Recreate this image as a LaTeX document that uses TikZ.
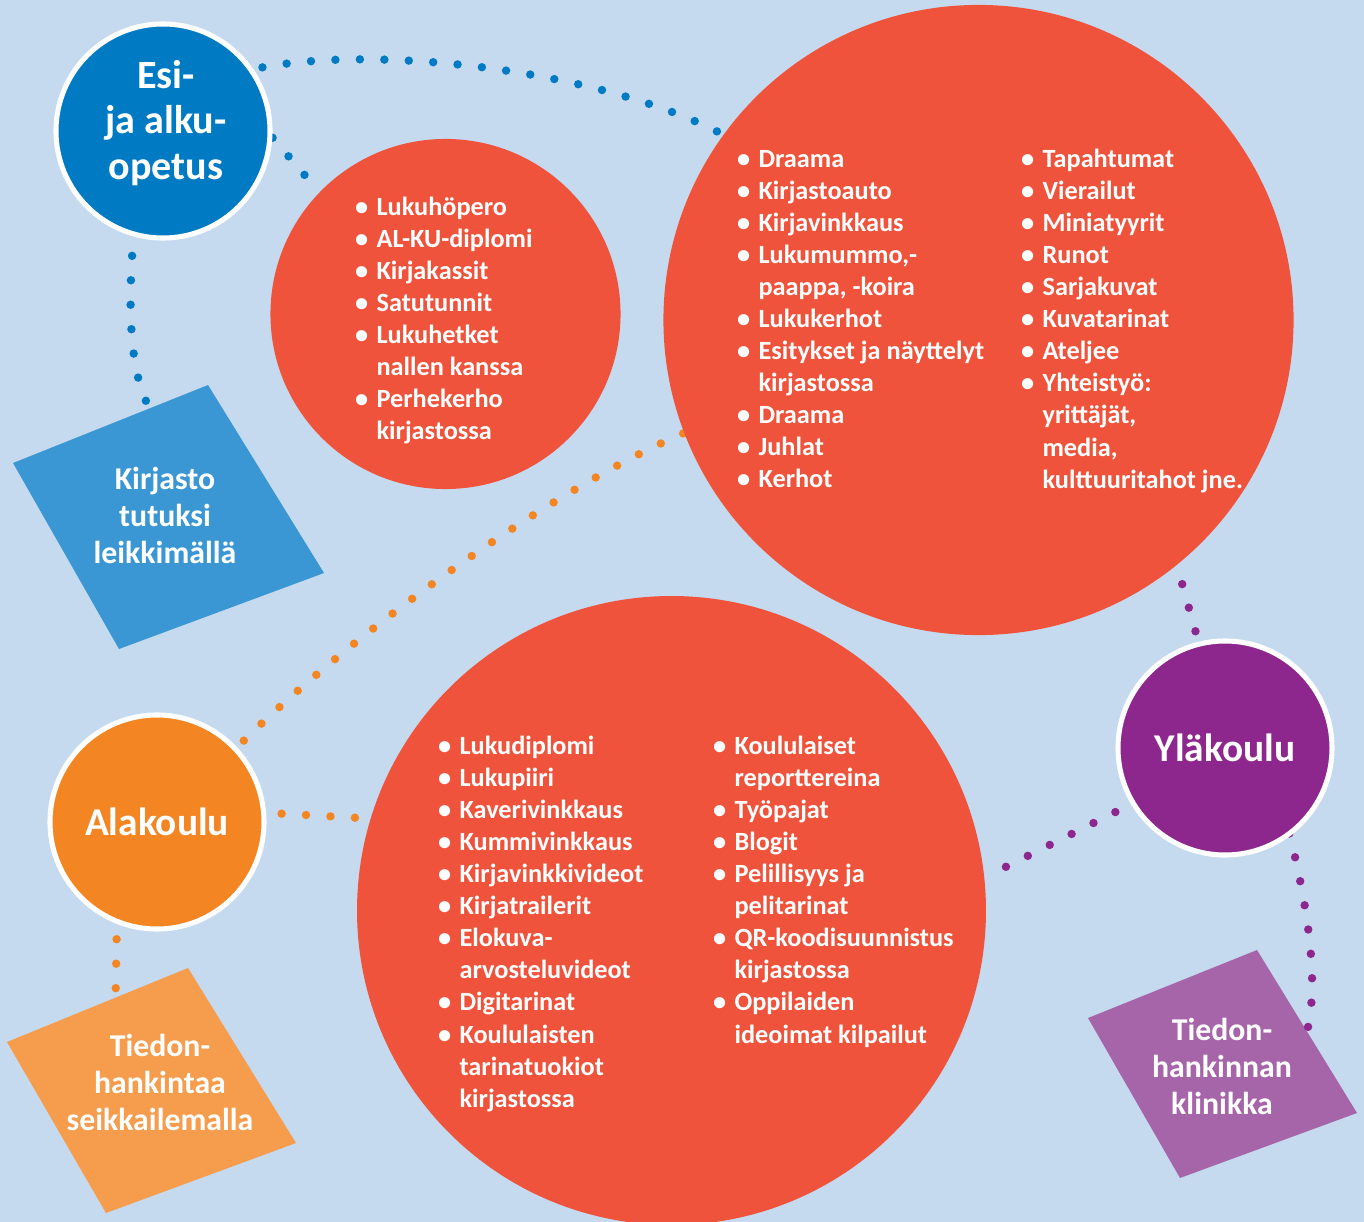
\documentclass[tikz,border=0pt]{standalone}
\usepackage{fontspec}
\setmainfont{Carlito}
\usetikzlibrary{backgrounds,calc}
\definecolor{bgblue}{RGB}{197,218,239}
\definecolor{discred}{RGB}{240,83,59}
\definecolor{esiblue}{RGB}{0,123,195}
\definecolor{kirjblue}{RGB}{58,151,211}
\definecolor{alaorange}{RGB}{243,134,35}
\definecolor{tiedorange}{RGB}{246,156,77}
\definecolor{ylapurple}{RGB}{142,39,141}
\definecolor{klinpurple}{RGB}{167,101,169}
\newcommand{\itm}{\makebox[0.54cm][l]{\textbullet}}
\newcommand{\cnt}{\hspace*{0.54cm}}
\begin{document}
\begin{tikzpicture}[x=0.025cm,y=-0.025cm,inner sep=0pt,outer sep=0pt,
disc/.style={circle,fill=discred},
stage/.style={circle,draw=white,line width=3.6pt,minimum size=5.35cm,text=white,align=center,font=\fontsize{28}{34}\selectfont\bfseries},
items/.style={anchor=north west,align=left,text=white,font=\fontsize{18.7}{22.8}\selectfont\bfseries},
tag/.style={align=center,text=white,font=\fontsize{22.6}{26.3}\selectfont\bfseries},
dotlink/.style={line width=6pt,line cap=round,dash pattern=on 0pt off 17.4pt}]
\useasboundingbox (0,0) rectangle (1364,1222);
% red discs
\node[disc,minimum size=8.75cm] (small) at (445.5,314) {};
\node[disc,minimum size=15.75cm] (top) at (978.5,320) {};
\node[disc,minimum size=15.72cm] (bottom) at (671.5,910.5) {};
% school stages
\node[stage,fill=esiblue] (esi) at (163,131) {};
\node[text=white,align=center,font=\fontsize{28.5}{32.5}\selectfont\bfseries] (esilabel) at (166,123) {Esi-\\ja alku-\\opetus};
\node[stage,fill=alaorange] (ala) at (157,822) {Alakoulu};
\node[stage,fill=ylapurple] (yla) at (1225,748) {Yläkoulu};
% diamond corners
\coordinate (k1) at (208,385); \coordinate (k2) at (324,573);
\coordinate (k3) at (119,649); \coordinate (k4) at (13,463);
\coordinate (s1) at (188,968); \coordinate (s2) at (296,1143);
\coordinate (s3) at (106,1213); \coordinate (s4) at (7,1042);
\coordinate (t1) at (1257,950); \coordinate (t2) at (1357,1113);
\coordinate (t3) at (1180,1178); \coordinate (t4) at (1088,1018);
\node[tag] (kirjasto) at (165,515) {Kirjasto\\tutuksi\\leikkimällä};
\node[tag] (seikkailu) at (160,1082) {Tiedon-\\hankintaa\\seikkailemalla};
\node[tag] (klinikka) at (1222,1066) {Tiedon-\\hankinnan\\klinikka};
% lists
\node[items] (smalllist) at (355,197) {\itm Lukuhöpero\\\itm AL-KU-diplomi\\\itm Kirjakassit\\\itm Satutunnit\\\itm Lukuhetket\\\cnt nallen kanssa\\\itm Perhekerho\\\cnt kirjastossa};
\node[items] (toplistA) at (737,150) {\itm Draama\\\itm Kirjastoauto\\\itm Kirjavinkkaus\\\itm Lukumummo,-\\\cnt paappa, -koira\\\itm Lukukerhot\\\itm Esitykset ja näyttelyt\\\cnt kirjastossa\\\itm Draama\\\itm Juhlat\\\itm Kerhot};
\node[items] (toplistB) at (1021,149) {\itm Tapahtumat\\\itm Vierailut\\\itm Miniatyyrit\\\itm Runot\\\itm Sarjakuvat\\\itm Kuvatarinat\\\itm Ateljee\\\itm Yhteistyö:\\\cnt yrittäjät,\\\cnt media,\\\cnt kulttuuritahot jne.};
\node[items] (bottomlistA) at (438,736) {\itm Lukudiplomi\\\itm Lukupiiri\\\itm Kaverivinkkaus\\\itm Kummivinkkaus\\\itm Kirjavinkkivideot\\\itm Kirjatrailerit\\\itm Elokuva-\\\cnt arvosteluvideot\\\itm Digitarinat\\\itm Koululaisten\\\cnt tarinatuokiot\\\cnt kirjastossa};
\node[items] (bottomlistB) at (713,736) {\itm Koululaiset\\\cnt reporttereina\\\itm Työpajat\\\itm Blogit\\\itm Pelillisyys ja\\\cnt pelitarinat\\\itm QR-koodisuunnistus\\\cnt kirjastossa\\\itm Oppilaiden\\\cnt ideoimat kilpailut};
\begin{scope}[on background layer]
\fill[bgblue] (0,0) rectangle (1364,1222);
\fill[kirjblue] (k1) -- (k2) -- (k3) -- (k4) -- cycle;
\fill[tiedorange] (s1) -- (s2) -- (s3) -- (s4) -- cycle;
\fill[klinpurple] (t1) -- (t2) -- (t3) -- (t4) -- cycle;
% dotted links
\draw[dotlink,esiblue,shorten <=0.3cm] (esi.35) .. controls (380,45) and (600,70) .. (top.144);
\draw[dotlink,esiblue,shorten <=0.1cm,shorten >=0.1cm] (esi.-2) -- (small.136);
\draw[dotlink,esiblue,shorten <=0.55cm,shorten >=0.15cm] (esi.-106) .. controls (128,320) and (132,372) .. ($(k1)!0.3!(k4)$);
\draw[dotlink,alaorange,shorten <=0.3cm] (ala.43) .. controls (352,634) and (550,490) .. (top.-159);
\draw[dotlink,alaorange,shorten <=0.45cm] (ala.5) -- (bottom.163);
\draw[dotlink,alaorange,shorten <=0.45cm,shorten >=0.15cm] (ala.-112) -- ($(s1)!0.4!(s4)$);
\draw[dotlink,ylapurple,shorten <=0.5cm] (top.-51) -- (yla.104);
\draw[dotlink,ylapurple,shorten <=0.5cm] (yla.-149) -- (bottom.6);
\draw[dotlink,ylapurple] (yla.-53) .. controls (1306,900) and (1320,980) .. ($(t1)!0.5!(t2)$);
\end{scope}
\end{tikzpicture}
\end{document}
